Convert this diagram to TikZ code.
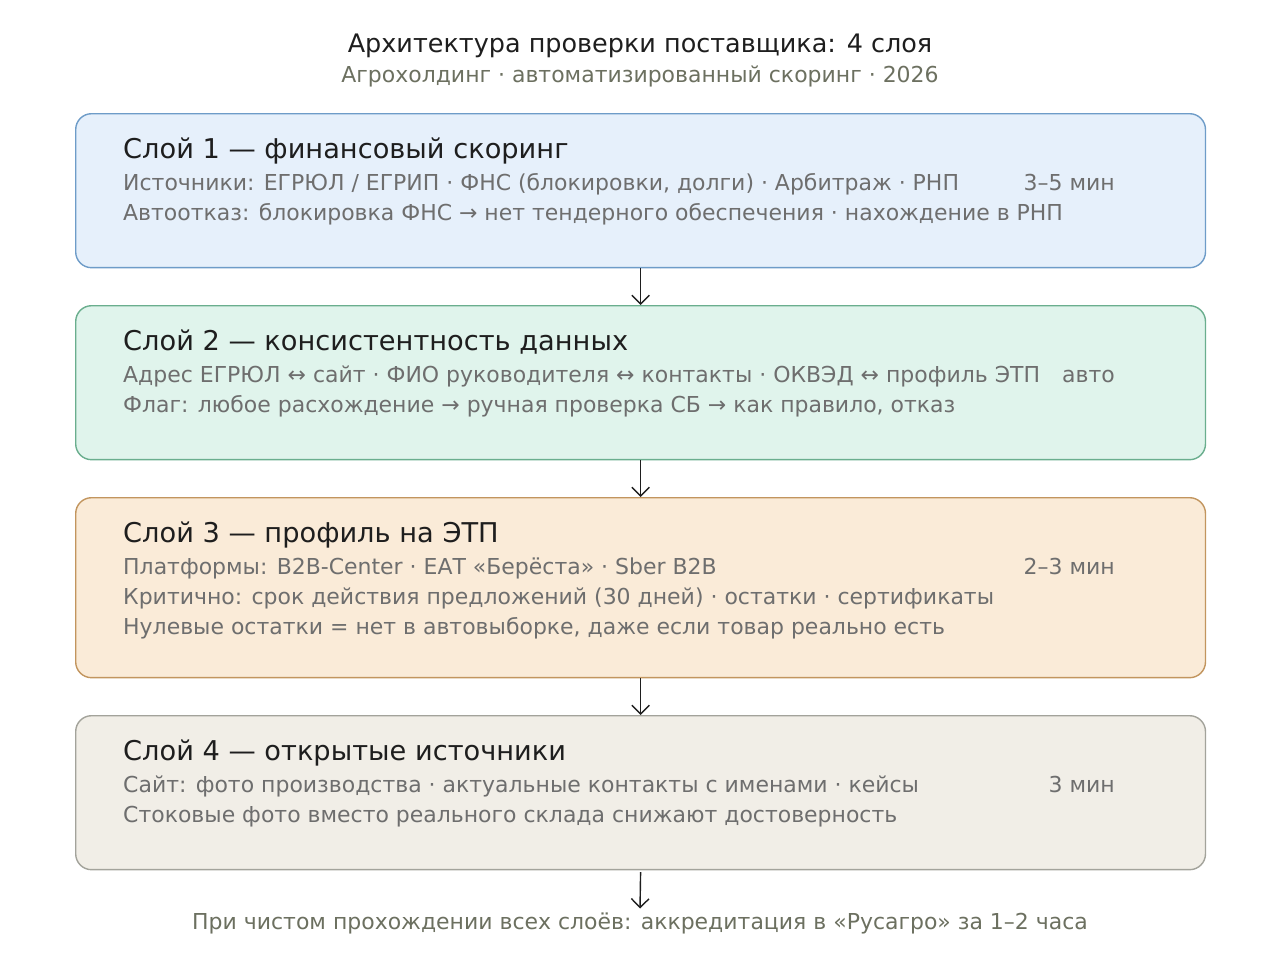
\documentclass[tikz,border=0pt]{standalone}
\usepackage{fontspec}
\setmainfont{DejaVu Sans}
\usetikzlibrary{arrows.meta}
\tikzset{% change default arrow tips
    >={Straight Barb[length=5pt,width=10pt]}
}
\definecolor{inkdark}{HTML}{1E1E1E}
\definecolor{inkgray}{HTML}{6E6E6E}
\definecolor{inknote}{HTML}{6C7060}
\definecolor{fillA}{HTML}{E6F0FB}
\definecolor{drawA}{HTML}{6E9CC8}
\definecolor{fillB}{HTML}{E0F4EC}
\definecolor{drawB}{HTML}{6AAE8E}
\definecolor{fillC}{HTML}{FAEBD8}
\definecolor{drawC}{HTML}{C2955E}
\definecolor{fillD}{HTML}{F1EEE7}
\definecolor{drawD}{HTML}{A3A39B}

\begin{document}
\begin{tikzpicture}[x=0.02cm,y=-0.02cm,
    layer/.style={draw=#1, line width=0.8pt, rounded corners=9pt, minimum width=22.6cm, anchor=north west, inner sep=0pt},
    head/.style={anchor=base west, text=inkdark, font=\fontsize{15.5}{18}\selectfont},
    body/.style={anchor=base west, text=inkgray, font=\fontsize{12.5}{15}\selectfont},
    timing/.style={anchor=base east, text=inkgray, font=\fontsize{12.5}{15}\selectfont},
    flow/.style={->, line width=0.8pt, draw=inkdark}]
    \useasboundingbox (0,0) rectangle (1280,960);

    % title
    \node[anchor=base, text=inkdark, font=\fontsize{14.5}{17}\selectfont] (title) at (640,52) {Архитектура проверки поставщика: 4 слоя};
    \node[anchor=base, text=inknote, font=\fontsize{12.5}{15}\selectfont] (subtitle) at (640,82) {Агрохолдинг · автоматизированный скоринг · 2026};

    % layers
    \node[layer=drawA, fill=fillA, minimum height=3.08cm] (l1) at (75,113) {};
    \node[layer=drawB, fill=fillB, minimum height=3.08cm] (l2) at (75,305) {};
    \node[layer=drawC, fill=fillC, minimum height=3.6cm] (l3) at (75,497) {};
    \node[layer=drawD, fill=fillD, minimum height=3.08cm] (l4) at (75,715) {};

    % layer 1
    \node[head] (h1) at (117,158) {Слой 1 — финансовый скоринг};
    \node[body] (a1) at (117,190) {Источники: ЕГРЮЛ / ЕГРИП · ФНС (блокировки, долги) · Арбитраж · РНП};
    \node[body] (b1) at (117,220) {Автоотказ: блокировка ФНС → нет тендерного обеспечения · нахождение в РНП};
    \node[timing] (t1) at (1121,190) {3–5 мин};

    % layer 2
    \node[head] (h2) at (117,350) {Слой 2 — консистентность данных};
    \node[body] (a2) at (117,382) {Адрес ЕГРЮЛ ↔ сайт · ФИО руководителя ↔ контакты · ОКВЭД ↔ профиль ЭТП};
    \node[timing] (t2) at (1121,382) {авто};
    \node[body] (b2) at (117,412) {Флаг: любое расхождение → ручная проверка СБ → как правило, отказ};

    % layer 3
    \node[head] (h3) at (117,542) {Слой 3 — профиль на ЭТП};
    \node[body] (a3) at (117,574) {Платформы: B2B-Center · ЕАТ «Берёста» · Sber B2B};
    \node[timing] (t3) at (1121,574) {2–3 мин};
    \node[body] (b3) at (117,604) {Критично: срок действия предложений (30 дней) · остатки · сертификаты};
    \node[body] (c3) at (117,634) {Нулевые остатки = нет в автовыборке, даже если товар реально есть};

    % layer 4
    \node[head] (h4) at (117,760) {Слой 4 — открытые источники};
    \node[body] (a4) at (117,792) {Сайт: фото производства · актуальные контакты с именами · кейсы};
    \node[timing] (t4) at (1121,792) {3 мин};
    \node[body] (b4) at (117,822) {Стоковые фото вместо реального склада снижают достоверность};

    % footer
    \node[anchor=base, text=inknote, font=\fontsize{12.5}{15}\selectfont, inner sep=2pt] (foot) at (640,929) {При чистом прохождении всех слоёв: аккредитация в «Русагро» за 1–2 часа};

    % arrows
    \draw[flow] (l1.south) -- (l2.north);
    \draw[flow] (l2.south) -- (l3.north);
    \draw[flow] (l3.south) -- (l4.north);
    \draw[flow] ([yshift=-1pt]l4.south) -- (foot.north);
\end{tikzpicture}
\end{document}
